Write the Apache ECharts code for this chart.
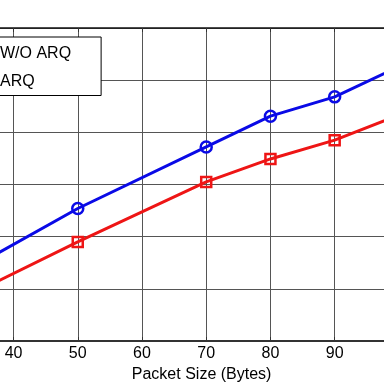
<!DOCTYPE html>
<html>
<head>
<meta charset="utf-8">
<script src="https://cdn.jsdelivr.net/npm/echarts@6/dist/echarts.min.js"></script>
<style>
  html, body { margin: 0; padding: 0; background: #fff; }
  #chart { width: 384px; height: 384px; }
</style>
</head>
<body>
<div id="chart"></div>
<script>
// Data
const packetSizes = [30, 50, 70, 80, 90, 100];
const woArq = [1.16, 2.54, 3.72, 4.31, 4.68, 5.26];
const withArq = [0.69, 1.90, 3.05, 3.49, 3.85, 4.33];
const seriesNames = ['W/O ARQ', 'ARQ'];
const xAxisTitle = 'Packet Size (Bytes)';

const FONT = 'Liberation Sans, Arial, Helvetica, sans-serif';
const chart = echarts.init(document.getElementById('chart'), null, { renderer: 'canvas' });

const toPairs = (xs, ys) => xs.map((x, i) => [x, ys[i]]);

chart.setOption({
  animation: false,
  backgroundColor: '#fff',
  grid: { left: -50.7, right: -14.9, top: 28, bottom: 43, containLabel: false, outerBoundsMode: 'none' },
  legend: {
    orient: 'vertical',
    left: -56,
    top: 37,
    padding: [9, 30, 6, 10],
    itemWidth: 40,
    itemHeight: 16,
    itemGap: 11.5,
    backgroundColor: '#fff',
    borderColor: '#000',
    borderWidth: 1,
    borderRadius: 0,
    textStyle: { fontFamily: FONT, fontSize: 16, color: '#000', lineHeight: 16 },
    data: seriesNames
  },
  xAxis: [
    {
      type: 'value',
      position: 'bottom',
      min: 30, max: 100, interval: 10,
      name: xAxisTitle,
      nameLocation: 'middle',
      nameGap: 15,
      nameTextStyle: { fontFamily: FONT, fontSize: 16, color: '#000', padding: [0, 0, 0, 55] },
      axisLine: { show: true, onZero: false, lineStyle: { color: '#333', width: 2 } },
      axisTick: { show: true, inside: true, length: 4, lineStyle: { color: '#333' } },
      axisLabel: { fontFamily: FONT, fontSize: 16, color: '#000', margin: 5 },
      splitLine: { show: true, lineStyle: { color: '#555', width: 1 } }
    },
    {
      type: 'value',
      position: 'top',
      min: 30, max: 100, interval: 10,
      axisLine: { show: true, onZero: false, lineStyle: { color: '#111', width: 1.5 } },
      axisTick: { show: true, inside: true, length: 4, lineStyle: { color: '#333' } },
      axisLabel: { show: false },
      splitLine: { show: false }
    }
  ],
  yAxis: {
    type: 'value',
    min: 0, max: 6, interval: 1,
    axisLine: { show: false },
    axisTick: { show: false },
    axisLabel: { show: false },
    splitLine: { show: true, lineStyle: { color: '#555', width: 1 } }
  },
  series: [
    {
      name: seriesNames[0],
      type: 'line',
      data: toPairs(packetSizes, woArq),
      symbol: 'circle',
      symbolSize: 11,
      lineStyle: { color: '#0a0ae6', width: 3 },
      itemStyle: { color: 'rgba(255,255,255,0)', borderColor: '#0a0ae6', borderWidth: 2.5 },
      z: 3
    },
    {
      name: seriesNames[1],
      type: 'line',
      data: toPairs(packetSizes, withArq),
      symbol: 'rect',
      symbolSize: 10,
      lineStyle: { color: '#ee1515', width: 3 },
      itemStyle: { color: 'rgba(255,255,255,0)', borderColor: '#ee1515', borderWidth: 2.5 },
      z: 3
    }
  ]
});
</script>
</body>
</html>
